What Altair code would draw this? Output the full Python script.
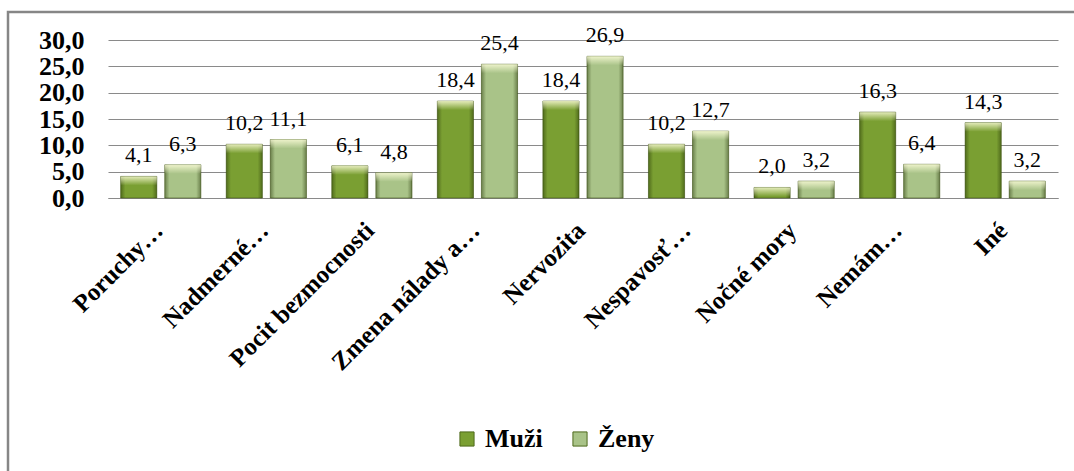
import altair as alt
import pandas as pd

# Survey answers (share of respondents, %) by sex
categories = [
    "Poruchy…",
    "Nadmerné…",
    "Pocit bezmocnosti",
    "Zmena nálady a…",
    "Nervozita",
    "Nespavosť…",
    "Nočné mory",
    "Nemám…",
    "Iné",
]
series = ["Muži", "Ženy"]
muzi = [4.1, 10.2, 6.1, 18.4, 18.4, 10.2, 2.0, 16.3, 14.3]
zeny = [6.3, 11.1, 4.8, 25.4, 26.9, 12.7, 3.2, 6.4, 3.2]
y_ticks = [0, 5, 10, 15, 20, 25, 30]

rows = []
for cat, m, z in zip(categories, muzi, zeny):
    rows.append({"kategoria": cat, "pohlavie": "Muži", "hodnota": m})
    rows.append({"kategoria": cat, "pohlavie": "Ženy", "hodnota": z})
df = pd.DataFrame(rows)

SERIF = "Liberation Serif"
GRID = "#8a8a8a"

x_enc = alt.X(
    "kategoria:N",
    sort=categories,
    scale=alt.Scale(paddingInner=0.24, paddingOuter=0.12),
    axis=alt.Axis(
        title=None,
        labelAngle=-45,
        labelAlign="right",
        labelBaseline="middle",
        labelFont=SERIF,
        labelFontSize=25,
        labelFontWeight="bold",
        labelColor="#000000",
        labelPadding=28,
        labelOffset=-2,
        ticks=False,
        domainColor=GRID,
        domainWidth=1.2,
        labelOverlap=False,
        labelLimit=400,
    ),
)
xoff_enc = alt.XOffset(
    "pohlavie:N", sort=series, scale=alt.Scale(paddingInner=0.18)
)
y_enc = alt.Y(
    "hodnota:Q",
    scale=alt.Scale(domain=[0, 30], nice=False),
    axis=alt.Axis(
        title=None,
        values=y_ticks,
        labelExpr="replace(format(datum.value, '.1f'), '.', ',')",
        labelFont=SERIF,
        labelFontSize=26,
        labelFontWeight="bold",
        labelColor="#000000",
        labelPadding=24,
        ticks=False,
        domain=False,
        gridColor=GRID,
        gridWidth=1.2,
    ),
)

base = alt.Chart(df).encode(x=x_enc, xOffset=xoff_enc, y=y_enc)

bars = base.mark_bar(stroke="#3f5514", strokeWidth=0.8, strokeOpacity=0.7).encode(
    color=alt.Color(
        "pohlavie:N",
        sort=series,
        scale=alt.Scale(domain=series, range=["#7a9f32", "#a9c388"]),
        legend=alt.Legend(
            title=None,
            orient="none",
            direction="horizontal",
            legendX=346,
            legendY=386,
            symbolType="square",
            symbolSize=200,
            symbolStrokeColor="#4f6a1c",
            symbolStrokeWidth=1,
            labelFont=SERIF,
            labelFontSize=26,
            labelFontWeight="bold",
            labelColor="#000000",
            labelOffset=5,
            columnPadding=24,
        ),
    )
)

# darker side edges of each bar
sides = base.mark_bar(
    fill={
        "gradient": "linear",
        "x1": 0, "y1": 0, "x2": 1, "y2": 0,
        "stops": [
            {"offset": 0.0, "color": "rgba(30,45,0,0.45)"},
            {"offset": 0.13, "color": "rgba(30,45,0,0.0)"},
            {"offset": 0.87, "color": "rgba(30,45,0,0.0)"},
            {"offset": 1.0, "color": "rgba(30,45,0,0.45)"},
        ],
    }
)

# light bevel along the top edge
top = base.mark_bar(
    y2Offset=9,
    fill={
        "gradient": "linear",
        "x1": 0, "y1": 0, "x2": 0, "y2": 1,
        "stops": [
            {"offset": 0.0, "color": "rgba(255,255,220,0.8)"},
            {"offset": 1.0, "color": "rgba(255,255,220,0.0)"},
        ],
    },
).encode(y2="hodnota:Q")

labels = base.mark_text(
    font=SERIF, fontSize=22, color="#000000", baseline="alphabetic", dy=-14
).transform_calculate(
    txt="replace(format(datum.hodnota, '.1f'), '.', ',')"
).encode(text="txt:N")

frame = alt.Chart(alt.Data(values=[{}])).mark_rect(
    fill=None, stroke="#868686", strokeWidth=2.5
).encode(
    x=alt.value(-100), x2=alt.value(990), y=alt.value(-28), y2=alt.value(460)
)

chart = (
    alt.layer(bars, sides, top, labels, frame)
    .properties(
        width=950,
        height=158,
        autosize=alt.AutoSizeParams(type="none"),
        padding={"left": 108, "top": 40, "right": 16, "bottom": 273},
        background="#ffffff",
    )
    .configure_view(stroke=None)
)

chart.save("out.html", embed_options={"renderer": "svg", "actions": False})
